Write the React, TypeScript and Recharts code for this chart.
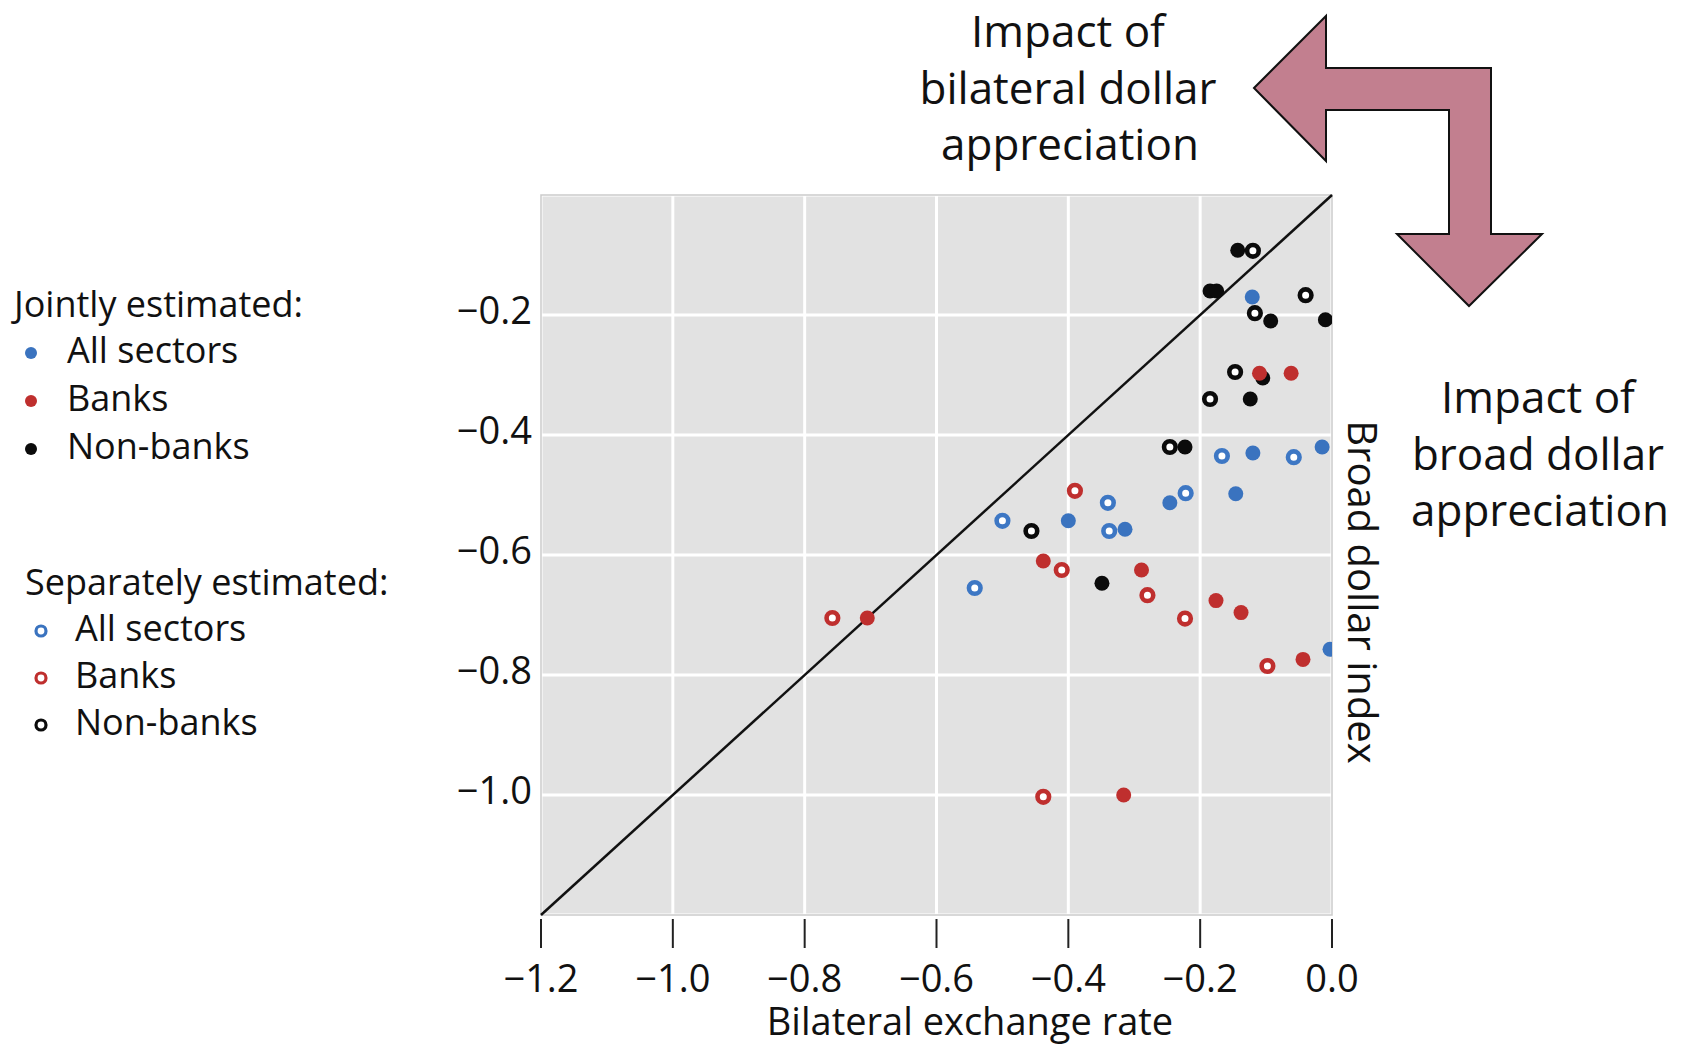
import React from 'react';
import {
  ScatterChart,
  Scatter,
  XAxis,
  YAxis,
  CartesianGrid,
  ReferenceLine,
  ReferenceArea,
} from 'recharts';

const FONT = '"Open Sans", "Noto Sans", sans-serif';

const BLUE = '#3a73bf';
const RED = '#bf2f2e';
const BLACK = '#0b0b0b';

// axis ticks
const xTicks = [-1.2, -1.0, -0.8, -0.6, -0.4, -0.2, 0.0];
const yTicks = [-1.0, -0.8, -0.6, -0.4, -0.2];

// jointly estimated (filled markers)
const jointAll = [
  { x: -0.121, y: -0.17 },
  { x: -0.12, y: -0.43 },
  { x: -0.015, y: -0.42 },
  { x: -0.246, y: -0.513 },
  { x: -0.146, y: -0.498 },
  { x: -0.4, y: -0.543 },
  { x: -0.314, y: -0.557 },
  { x: -0.003, y: -0.757 },
];
const jointBanks = [
  { x: -0.11, y: -0.297 },
  { x: -0.062, y: -0.297 },
  { x: -0.438, y: -0.61 },
  { x: -0.289, y: -0.625 },
  { x: -0.176, y: -0.676 },
  { x: -0.138, y: -0.696 },
  { x: -0.044, y: -0.774 },
  { x: -0.705, y: -0.705 },
  { x: -0.316, y: -1.0 },
];
const jointNonBanks = [
  { x: -0.143, y: -0.092 },
  { x: -0.185, y: -0.16 },
  { x: -0.175, y: -0.16 },
  { x: -0.093, y: -0.21 },
  { x: -0.01, y: -0.208 },
  { x: -0.105, y: -0.305 },
  { x: -0.124, y: -0.34 },
  { x: -0.223, y: -0.42 },
  { x: -0.349, y: -0.647 },
];

// separately estimated (open markers)
const sepAll = [
  { x: -0.167, y: -0.435 },
  { x: -0.058, y: -0.437 },
  { x: -0.34, y: -0.513 },
  { x: -0.222, y: -0.497 },
  { x: -0.5, y: -0.543 },
  { x: -0.338, y: -0.56 },
  { x: -0.542, y: -0.655 },
];
const sepBanks = [
  { x: -0.39, y: -0.493 },
  { x: -0.41, y: -0.625 },
  { x: -0.28, y: -0.667 },
  { x: -0.223, y: -0.706 },
  { x: -0.098, y: -0.785 },
  { x: -0.758, y: -0.705 },
  { x: -0.438, y: -1.003 },
];
const sepNonBanks = [
  { x: -0.12, y: -0.093 },
  { x: -0.04, y: -0.167 },
  { x: -0.117, y: -0.197 },
  { x: -0.147, y: -0.295 },
  { x: -0.185, y: -0.34 },
  { x: -0.246, y: -0.42 },
  { x: -0.456, y: -0.56 },
];

const legendJoint = [
  { label: 'All sectors', color: BLUE },
  { label: 'Banks', color: RED },
  { label: 'Non-banks', color: BLACK },
];

const fmt = (v: number) => v.toFixed(1).replace('-', '\u2212');

const filledDot = (color: string) => (props: any) => (
  <circle cx={props.cx} cy={props.cy} r={7.5} fill={color} />
);
const openDot = (color: string) => (props: any) => (
  <circle cx={props.cx} cy={props.cy} r={5.8} fill="#ffffff" stroke={color} strokeWidth={4.6} />
);

const XTick = (props: any) => {
  const { x, y, payload } = props;
  return (
    <g>
      <line x1={x} x2={x} y1={y + 4} y2={y + 33} stroke="#222" strokeWidth={2} />
      <text x={x} y={y + 77} textAnchor="middle" fontSize={38} fontFamily={FONT} fill="#111">
        {fmt(payload.value)}
      </text>
    </g>
  );
};

const YTick = (props: any) => {
  const { x, y, payload } = props;
  return (
    <text x={x} y={y + 9} textAnchor="end" fontSize={38} fontFamily={FONT} fill="#111">
      {fmt(payload.value)}
    </text>
  );
};

const Overlay = () => (
  <svg
    width={1687}
    height={1045}
    style={{ position: 'absolute', left: 0, top: 0, pointerEvents: 'none' }}
    fontFamily={FONT}
  >
    {/* bent arrow */}
    <polygon
      points="1254,88 1326,16 1326,68 1491,68 1491,234 1542,234 1469,306 1397,234 1449,234 1449,110 1326,110 1326,161"
      fill="#c27f8f"
      stroke="#111"
      strokeWidth={2}
      strokeLinejoin="miter"
    />

    {/* annotations */}
    <g fontSize={44} textAnchor="middle" fill="#111">
      <text x={1068} y={47}>Impact of</text>
      <text x={1068} y={104}>bilateral dollar</text>
      <text x={1070} y={160}>appreciation</text>
      <text x={1538} y={413}>Impact of</text>
      <text x={1538} y={470}>broad dollar</text>
      <text x={1540} y={526}>appreciation</text>
    </g>

    {/* axis titles */}
    <text x={970} y={1035} fontSize={38} textAnchor="middle" fill="#111">
      Bilateral exchange rate
    </text>
    <text x={1348} y={592} fontSize={40} textAnchor="middle" fill="#111" transform="rotate(90 1348 592)">
      Broad dollar index
    </text>

    {/* legend */}
    <g fontSize={36} fill="#111">
      <text x={14} y={317}>Jointly estimated:</text>
      {legendJoint.map((d, i) => (
        <g key={'j' + i}>
          <circle cx={31} cy={353 + i * 48} r={6} fill={d.color} />
          <text x={67} y={363 + i * 48}>{d.label}</text>
        </g>
      ))}
      <text x={25} y={595}>Separately estimated:</text>
      {legendJoint.map((d, i) => (
        <g key={'s' + i}>
          <circle cx={41} cy={631 + i * 47} r={5} fill="#fff" stroke={d.color} strokeWidth={3.2} />
          <text x={75} y={641 + i * 47}>{d.label}</text>
        </g>
      ))}
    </g>
  </svg>
);

export default function App() {
  return (
    <div style={{ position: 'absolute', left: 0, top: 0, width: 1687, height: 1045, background: '#fff' }}>
      <ScatterChart
        width={1687}
        height={1045}
        margin={{ top: 195, right: 355, bottom: 30, left: 441 }}
      >
        <CartesianGrid fill="#e2e2e2" fillOpacity={1} stroke="#ffffff" strokeWidth={3} />
        <XAxis
          type="number"
          dataKey="x"
          domain={[-1.2, 0]}
          ticks={xTicks}
          interval={0}
          height={100}
          axisLine={false}
          tickLine={false}
          tickSize={0}
          tickMargin={0}
          tick={<XTick />}
          allowDataOverflow
        />
        <YAxis
          type="number"
          dataKey="y"
          domain={[-1.2, 0]}
          ticks={yTicks}
          interval={0}
          width={100}
          axisLine={false}
          tickLine={false}
          tickSize={0}
          tickMargin={9}
          tick={<YTick />}
          allowDataOverflow
        />
        <ReferenceArea
          x1={-1.2}
          x2={0}
          y1={-1.2}
          y2={0}
          fill="none"
          stroke="#cbcbcb"
          strokeWidth={1.5}
          ifOverflow="visible"
        />
        <ReferenceLine
          segment={[
            { x: -1.2, y: -1.2 },
            { x: 0, y: 0 },
          ]}
          stroke="#111"
          strokeWidth={2.5}
          ifOverflow="visible"
        />
        <Scatter data={jointNonBanks} shape={filledDot(BLACK)} isAnimationActive={false} />
        <Scatter data={jointBanks} shape={filledDot(RED)} isAnimationActive={false} />
        <Scatter data={jointAll} shape={filledDot(BLUE)} isAnimationActive={false} />
        <Scatter data={sepAll} shape={openDot('#3d77c4')} isAnimationActive={false} />
        <Scatter data={sepBanks} shape={openDot(RED)} isAnimationActive={false} />
        <Scatter data={sepNonBanks} shape={openDot(BLACK)} isAnimationActive={false} />
      </ScatterChart>
      <Overlay />
    </div>
  );
}
